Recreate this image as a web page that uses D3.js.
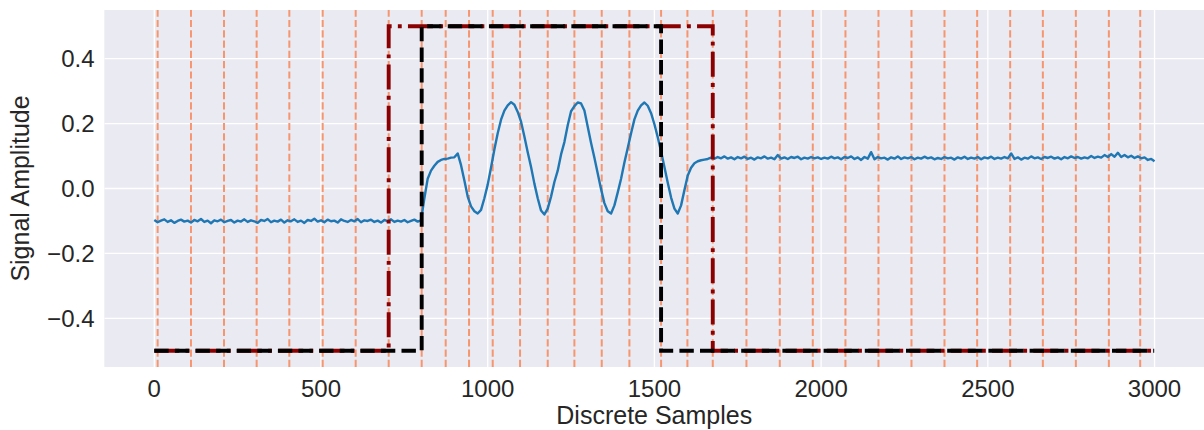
<!DOCTYPE html>
<html>
<head>
<meta charset="utf-8">
<script src="https://cdn.jsdelivr.net/npm/d3@7"></script>
<style>
  html, body { margin: 0; padding: 0; background: #ffffff; }
  svg { display: block; }
  text { font-family: "Liberation Sans", Arial, sans-serif; fill: #262626; }
</style>
</head>
<body>
<svg id="chart" width="1204" height="430"></svg>
<script>
// Sampled signal: one value every `sampleStep` samples, from sample 0 to 3000
const sampleStep = 10;
const signalValues = [
  // 0 – 790: low resting level
  -0.097, -0.104, -0.099, -0.095, -0.103, -0.098, -0.106, -0.100, -0.096, -0.102,
  -0.099, -0.105, -0.097, -0.101, -0.094, -0.103, -0.099, -0.107, -0.098, -0.101,
  -0.096, -0.104, -0.100, -0.097, -0.105, -0.099, -0.102, -0.095, -0.103, -0.098,
  -0.101, -0.106, -0.097, -0.100, -0.094, -0.104, -0.099, -0.102, -0.096, -0.105,
  -0.098, -0.101, -0.095, -0.103, -0.099, -0.106, -0.097, -0.100, -0.093, -0.102,
  -0.098, -0.104, -0.096, -0.101, -0.099, -0.105, -0.095, -0.100, -0.103, -0.097,
  -0.101, -0.094, -0.104, -0.098, -0.100, -0.096, -0.103, -0.099, -0.105, -0.097,
  -0.101, -0.095, -0.103, -0.099, -0.102, -0.097, -0.104, -0.100, -0.096, -0.102,
  // 800 – 1650: oscillating burst
  -0.098, -0.030, 0.030, 0.055, 0.070, 0.082, 0.088, 0.091, 0.092, 0.095,
  0.096, 0.108, 0.072, 0.025, -0.025, -0.055, -0.070, -0.077, -0.066, -0.030,
  0.012, 0.065, 0.120, 0.170, 0.212, 0.240, 0.256, 0.266, 0.258, 0.236,
  0.206, 0.160, 0.112, 0.066, 0.015, -0.030, -0.068, -0.080, -0.062, -0.025,
  0.020, 0.055, 0.105, 0.143, 0.195, 0.238, 0.254, 0.265, 0.262, 0.240,
  0.190, 0.140, 0.095, 0.046, -0.002, -0.045, -0.070, -0.077, -0.052, -0.012,
  0.030, 0.080, 0.125, 0.170, 0.213, 0.240, 0.256, 0.265, 0.255, 0.232,
  0.198, 0.158, 0.114, 0.066, 0.018, -0.028, -0.062, -0.077, -0.052, -0.005,
  0.040, 0.064, 0.078, 0.084, 0.087, 0.089,
  // 1660 – 3000: high resting level
  0.091, 0.095, 0.092, 0.097, 0.093, 0.099, 0.092, 0.096, 0.090, 0.097,
  0.093, 0.098, 0.091, 0.095, 0.089, 0.096, 0.093, 0.099, 0.092, 0.095,
  0.090, 0.103, 0.092, 0.096, 0.091, 0.097, 0.094, 0.098, 0.090, 0.095,
  0.092, 0.097, 0.093, 0.096, 0.091, 0.095, 0.092, 0.098, 0.093, 0.096,
  0.090, 0.097, 0.094, 0.099, 0.091, 0.096, 0.088, 0.097, 0.092, 0.112,
  0.090, 0.097, 0.093, 0.095, 0.089, 0.096, 0.092, 0.099, 0.091, 0.096,
  0.093, 0.097, 0.090, 0.095, 0.092, 0.098, 0.093, 0.096, 0.090, 0.094,
  0.091, 0.097, 0.093, 0.095, 0.089, 0.096, 0.092, 0.098, 0.091, 0.095,
  0.092, 0.097, 0.090, 0.096, 0.093, 0.098, 0.091, 0.095, 0.092, 0.097,
  0.093, 0.108, 0.091, 0.096, 0.089, 0.095, 0.092, 0.099, 0.093, 0.096,
  0.091, 0.097, 0.094, 0.098, 0.092, 0.096, 0.090, 0.097, 0.093, 0.099,
  0.094, 0.097, 0.092, 0.096, 0.093, 0.100, 0.094, 0.098, 0.095, 0.103,
  0.097, 0.106, 0.098, 0.110, 0.097, 0.103, 0.096, 0.101, 0.094, 0.099,
  0.093, 0.096, 0.088, 0.091, 0.084
];

// Gate traces: sample indices where the level changes, and the levels in between
const outerGateEdges = [0, 703, 1675, 2999];
const outerGateLevels = [-0.5, 0.5, -0.5];
const innerGateEdges = [0, 802, 1520, 2999];
const innerGateLevels = [-0.5, 0.5, -0.5];

// Segment boundaries marked with vertical dashed lines
const segmentBounds = [10, 110, 209, 307, 405, 505, 604, 703, 802, 874, 944, 1015,
  1097, 1180, 1260, 1342, 1425, 1520, 1599, 1675, 1776, 1876, 1975, 2073, 2172,
  2271, 2370, 2468, 2567, 2665, 2764, 2863, 2957];

const xTicks = [0, 500, 1000, 1500, 2000, 2500, 3000];
const yTicks = [-0.4, -0.2, 0.0, 0.2, 0.4];
const xTitle = "Discrete Samples";
const yTitle = "Signal Amplitude";

// Layout
const plot = { left: 104.3, right: 1204.2, top: 10, bottom: 367 };

const svg = d3.select("#chart");

const x = d3.scaleLinear().domain([-149.95, 3148.95]).range([plot.left, plot.right]);
const y = d3.scaleLinear().domain([-0.55, 0.55]).range([plot.bottom, plot.top]);

svg.append("defs").append("clipPath").attr("id", "plot-clip")
  .append("rect")
  .attr("x", plot.left).attr("y", plot.top)
  .attr("width", plot.right - plot.left).attr("height", plot.bottom - plot.top);

// Axes background
svg.append("rect")
  .attr("x", plot.left).attr("y", plot.top)
  .attr("width", plot.right - plot.left).attr("height", plot.bottom - plot.top)
  .attr("fill", "#eaeaf2");

// Grid
const grid = svg.append("g").attr("clip-path", "url(#plot-clip)");
grid.selectAll("line.gx").data(xTicks).join("line")
  .attr("class", "gx")
  .attr("x1", d => x(d)).attr("x2", d => x(d))
  .attr("y1", plot.top).attr("y2", plot.bottom)
  .attr("stroke", "#ffffff").attr("stroke-width", 1.3);
grid.selectAll("line.gy").data(yTicks).join("line")
  .attr("class", "gy")
  .attr("x1", plot.left).attr("x2", plot.right)
  .attr("y1", d => y(d)).attr("y2", d => y(d))
  .attr("stroke", "#ffffff").attr("stroke-width", 1.3);

const marks = svg.append("g").attr("clip-path", "url(#plot-clip)");

// Segment boundary lines (drawn bottom to top)
marks.selectAll("line.seg").data(segmentBounds).join("line")
  .attr("class", "seg")
  .attr("x1", d => x(d)).attr("x2", d => x(d))
  .attr("y1", plot.bottom).attr("y2", plot.top)
  .attr("stroke", "#f7956f")
  .attr("stroke-width", 2)
  .attr("stroke-dasharray", "7.2,3.1");

// Signal trace
const signalLine = d3.line()
  .x((d, i) => x(i * sampleStep))
  .y(d => y(d));
marks.append("path")
  .datum(signalValues)
  .attr("d", signalLine)
  .attr("fill", "none")
  .attr("stroke", "#1f77b4")
  .attr("stroke-width", 2.4)
  .attr("stroke-linejoin", "round");

// Gate traces as step lines
function gatePoints(edges, levels) {
  const pts = levels.map((v, i) => [edges[i], v]);
  pts.push([edges[edges.length - 1], levels[levels.length - 1]]);
  return pts;
}
const stepLine = d3.line()
  .x(d => x(d[0]))
  .y(d => y(d[1]))
  .curve(d3.curveStepAfter);

marks.append("path")
  .datum(gatePoints(outerGateEdges, outerGateLevels))
  .attr("d", stepLine)
  .attr("fill", "none")
  .attr("stroke", "#8b0000")
  .attr("stroke-width", 3.9)
  .attr("stroke-dasharray", "25,6.2,3.9,6.2");

marks.append("path")
  .datum(gatePoints(innerGateEdges, innerGateLevels))
  .attr("d", stepLine)
  .attr("fill", "none")
  .attr("stroke", "#000000")
  .attr("stroke-width", 3.9)
  .attr("stroke-dasharray", "14.4,6.2");

// Tick labels
const fmtY = v => (v < 0 ? "\u2212" : "") + Math.abs(v).toFixed(1);
svg.append("g").selectAll("text").data(xTicks).join("text")
  .attr("x", d => x(d)).attr("y", 397)
  .attr("text-anchor", "middle")
  .attr("font-size", 24)
  .text(d => d);
svg.append("g").selectAll("text").data(yTicks).join("text")
  .attr("x", 94.5).attr("y", d => y(d) + 8.6)
  .attr("text-anchor", "end")
  .attr("font-size", 24)
  .text(fmtY);

// Axis titles
svg.append("text")
  .attr("x", (plot.left + plot.right) / 2).attr("y", 424)
  .attr("text-anchor", "middle")
  .attr("font-size", 25)
  .text(xTitle);
svg.append("text")
  .attr("transform", `translate(29,${(plot.top + plot.bottom) / 2}) rotate(-90)`)
  .attr("text-anchor", "middle")
  .attr("font-size", 25)
  .text(yTitle);
</script>
</body>
</html>
